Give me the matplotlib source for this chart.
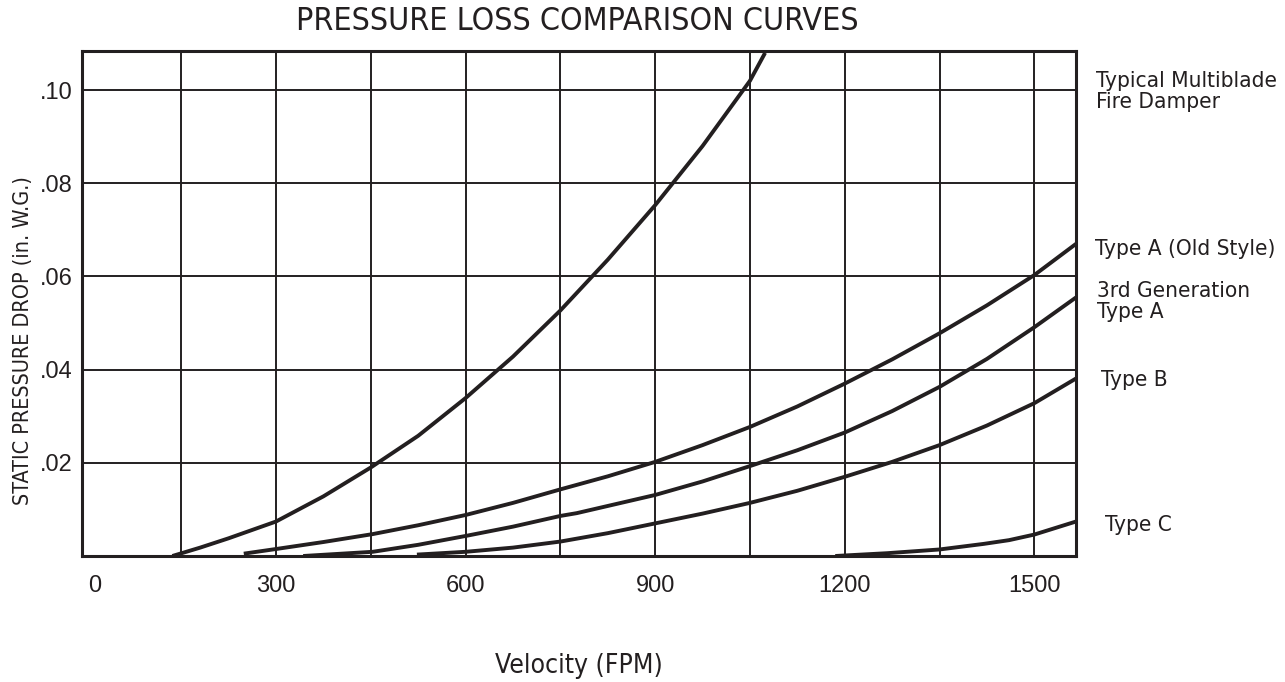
import matplotlib
matplotlib.use("Agg")
import matplotlib.pyplot as plt
import matplotlib.transforms as mtransforms
from matplotlib import font_manager

# curve data (velocity FPM, static pressure in. W.G.)
fire_v = [136, 180, 225, 300, 375, 450, 525, 600, 675, 750, 825, 900, 975, 1050, 1074]
fire_p = [0, 0.0018, 0.0038, 0.0074, 0.0128, 0.0190, 0.0258, 0.0339, 0.0428, 0.0527,
          0.0636, 0.0753, 0.0880, 0.1020, 0.108]

old_a_v = [249, 300, 375, 453, 525, 600, 675, 750, 825, 900, 975, 1050, 1125, 1200,
           1275, 1350, 1425, 1500, 1566]
old_a_p = [0.0005, 0.0015, 0.0030, 0.0047, 0.0066, 0.0088, 0.0114, 0.0143, 0.0171,
           0.0202, 0.0238, 0.0277, 0.0321, 0.037, 0.0422, 0.0478, 0.0538, 0.0603, 0.067]

gen3_v = [343, 453, 525, 600, 675, 750, 776, 900, 975, 1050, 1125, 1200, 1275, 1350,
          1425, 1500, 1566]
gen3_p = [0, 0.0009, 0.0024, 0.0043, 0.0063, 0.0086, 0.0092, 0.0131, 0.0160, 0.0193,
          0.0227, 0.0265, 0.0311, 0.0363, 0.0423, 0.0491, 0.0555]

type_b_v = [523, 600, 675, 750, 825, 900, 975, 1050, 1125, 1200, 1275, 1350, 1425, 1500, 1566]
type_b_p = [0.0003, 0.0009, 0.0018, 0.0031, 0.0049, 0.007, 0.0091, 0.0114, 0.0140, 0.017,
            0.0202, 0.0238, 0.0280, 0.0328, 0.0381]

type_c_v = [1185, 1267, 1350, 1420, 1460, 1500, 1566]
type_c_p = [0, 0.0006, 0.0014, 0.0026, 0.0034, 0.0046, 0.0074]

x_ticks = [0, 300, 600, 900, 1200, 1500]
x_grid = [150, 300, 450, 600, 750, 900, 1050, 1200, 1350, 1500]
y_ticks = [0.02, 0.04, 0.06, 0.08, 0.10]
y_tick_labels = [".02", ".04", ".06", ".08", ".10"]

labels = ["Typical Multiblade\nFire Damper", "Type A (Old Style)",
          "3rd Generation\nType A", "Type B", "Type C"]
label_y = [0.0997, 0.0659, 0.0547, 0.0378, 0.0067]   # label centres in data units
label_x = [1096, 1095, 1097, 1101, 1105]              # left edge, figure px

names = {f.name for f in font_manager.fontManager.ttflist}
if "Liberation Sans Narrow" in names:
    narrow = dict(family="Liberation Sans Narrow")
else:
    narrow = dict(family="DejaVu Sans", stretch="condensed")

ink = "#231f20"

fig = plt.figure(figsize=(12.85, 6.82), dpi=100)
ax = fig.add_axes([82 / 1285, 126 / 682, 994 / 1285, 505 / 682])

for v, p in [(fire_v, fire_p), (old_a_v, old_a_p), (gen3_v, gen3_p),
             (type_b_v, type_b_p), (type_c_v, type_c_p)]:
    ax.plot(v, p, color=ink, lw=2.8, solid_capstyle="butt", solid_joinstyle="round", zorder=3)

ax.set_xlim(-7, 1566)
ax.set_ylim(0, 0.1084)

ax.xaxis.remove_overlapping_locs = False
ax.set_xticks(x_ticks)
ax.set_xticklabels([str(t) for t in x_ticks], family="Liberation Sans", fontsize=17, color=ink)
ax.set_xticks(x_grid, minor=True)
ax.set_yticks(y_ticks)
ax.set_yticklabels(y_tick_labels, family="Liberation Sans", fontsize=17, color=ink)
ax.tick_params(axis="both", which="both", length=0)
ax.tick_params(axis="x", pad=14)
ax.tick_params(axis="y", pad=7)

# the "0" label sits a little right of the origin in the original
zero = ax.get_xticklabels()[0]
zero.set_transform(zero.get_transform() + mtransforms.ScaledTranslation(8 / 100, 0, fig.dpi_scale_trans))

ax.grid(False)
ax.xaxis.grid(True, which="minor", color=ink, lw=1.4)
ax.yaxis.grid(True, which="major", color=ink, lw=1.4)
ax.set_axisbelow(True)
for s in ax.spines.values():
    s.set_linewidth(2.2)
    s.set_color(ink)

ax.set_ylabel("STATIC PRESSURE DROP (in. W.G.)", fontsize=15.5, color=ink, **narrow)
ax.yaxis.set_label_coords(-0.049, 0.426)
ax.set_xlabel("Velocity (FPM)", fontsize=19, color=ink, labelpad=40, **narrow)
fig.text(577 / 1285, 1 - 22 / 682, "PRESSURE LOSS COMPARISON CURVES", ha="center",
         va="center", fontsize=23, color=ink, **narrow)

trans = mtransforms.blended_transform_factory(fig.transFigure, ax.transData)
for txt, lx, ly in zip(labels, label_x, label_y):
    ax.text(lx / 1285, ly, txt, transform=trans, fontsize=16.2, clip_on=False,
            color=ink, ha="left", va="center", linespacing=1.08, **narrow)

fig.savefig("out.png", dpi=100)
